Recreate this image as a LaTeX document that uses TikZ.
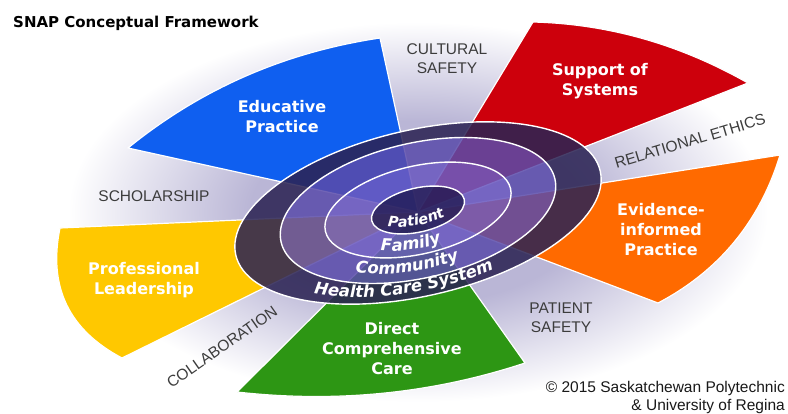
\documentclass[tikz,border=0pt]{standalone}
\usepackage{fontspec}
\usetikzlibrary{decorations.text,calc}
\newfontfamily\boldsans{DejaVu Sans Bold}
\newfontfamily\ringsans{DejaVu Sans Bold Oblique}
\newfontfamily\plainsans{Liberation Sans}

\definecolor{edublue}{RGB}{15,95,240}
\definecolor{supred}{RGB}{205,0,12}
\definecolor{evorange}{RGB}{255,106,0}
\definecolor{caregreen}{RGB}{45,150,20}
\definecolor{leadyellow}{RGB}{255,200,0}
\definecolor{gaplav}{RGB}{186,182,214}
\definecolor{ringouter}{RGB}{44,36,84}
\definecolor{ringcomm}{RGB}{90,75,170}
\definecolor{ringfam}{RGB}{108,90,192}
\definecolor{ringpat}{RGB}{45,36,100}
\definecolor{gaptext}{RGB}{60,60,60}

% soft lavender halo behind the petals, fading to white
\pgfdeclareradialshading{gapfade}{\pgfpoint{0bp}{0bp}}{color(0bp)=(gaplav); color(12bp)=(gaplav); color(25bp)=(white); color(50bp)=(white)}

\begin{document}
\begin{tikzpicture}[x=1pt,y=-1pt,
  petal/.style={draw=white, line width=1.2pt, line join=round},
  petallabel/.style={text=white, font=\boldsans\fontsize{16}{20}\selectfont, align=center, inner sep=0pt},
  gaplabel/.style={text=gaptext, font=\plainsans\fontsize{15.5}{19}\selectfont, align=center, inner sep=0pt},
  ringline/.style={draw=white, line width=1.4pt},
  ringtext/.style n args={2}{decorate, decoration={text along path, text align=center, text color=white,
      text={|\ringsans\fontsize{#1}{#1}\selectfont|#2}}},
]
\useasboundingbox (0,0) rectangle (788,413);
\fill[white] (0,0) rectangle (788,413);
\coordinate (C) at (418,212);
\coordinate (R) at (418,210);

% halo
\shade[shading=gapfade] (C) ellipse [x radius=350pt, y radius=190pt];

% the five petals, radiating from the centre
\path[petal, fill=edublue]    (C) -- (128,148) .. controls (202,88) and (286,52) .. (380,38) -- cycle;
\path[petal, fill=supred]     (C) -- (533,22) .. controls (610,24) and (681,45) .. (748,83) -- cycle;
\path[petal, fill=evorange]   (C) -- (780,155) .. controls (760,221) and (719,271) .. (658,303) -- cycle;
\path[petal, fill=caregreen]  (C) -- (525,363) .. controls (431,394) and (335,403) .. (237,392) -- cycle;
\path[petal, fill=leadyellow] (C) -- (60,228) .. controls (48,287) and (69,330) .. (122,358) -- cycle;

% concentric rings (tilted disc seen in perspective)
\begin{scope}[shift={(R)}, rotate=13]
  \coordinate (o) at (-0.67pt,-2.92pt);
  \coordinate (m) at (-0.11pt,-0.49pt);
  \coordinate (i) at (0pt,0pt);
  \fill[ringouter, opacity=0.87, even odd rule]
    (o) ellipse [x radius=187pt, y radius=83pt] (m) ellipse [x radius=140.5pt, y radius=67.5pt];
  \fill[ringcomm, opacity=0.86, even odd rule]
    (m) ellipse [x radius=140.5pt, y radius=67.5pt] (i) ellipse [x radius=95pt, y radius=44pt];
  \fill[ringfam, opacity=0.88, even odd rule]
    (i) ellipse [x radius=95pt, y radius=44pt] (i) ellipse [x radius=47.5pt, y radius=22pt];
  \fill[ringpat, opacity=0.96] (i) ellipse [x radius=47.5pt, y radius=22pt];
  \draw[ringline] (o) ellipse [x radius=187pt, y radius=83pt];
  \draw[ringline] (m) ellipse [x radius=140.5pt, y radius=67.5pt];
  \draw[ringline] (i) ellipse [x radius=95pt, y radius=44pt];
  \draw[ringline] (i) ellipse [x radius=47.5pt, y radius=22pt];

  \path[ringtext={16.5}{Health Care System}]
    ($(o)+(194:170pt and 77pt)$) arc [start angle=194, end angle=314, x radius=170pt, y radius=77pt];
  \path[ringtext={16.5}{Community}]
    (193:122pt and 59.4pt) arc [start angle=193, end angle=313, x radius=122pt, y radius=59.4pt];
  \path[ringtext={16.5}{Family}]
    (205:80pt and 37.8pt) arc [start angle=205, end angle=305, x radius=80pt, y radius=37.8pt];
  \path[ringtext={14.5}{Patient}]
    (200:42pt and 15pt) arc [start angle=200, end angle=320, x radius=42pt, y radius=15pt];
\end{scope}

% petal labels
\node[petallabel] (edu)  at (282,116.5) {Educative\\Practice};
\node[petallabel] (sup)  at (600,81.5)  {Support of\\Systems};
\node[petallabel] (evi)  at (661,230)   {Evidence-\\informed\\Practice};
\node[petallabel] (dir)  at (392,349)   {Direct\\Comprehensive\\Care};
\node[petallabel] (lead) at (144,280)   {Professional\\Leadership};

% labels in the gaps
\node[gaplabel] (cult)   at (447,59)  {CULTURAL\\SAFETY};
\node[gaplabel] (rel)    at (690,141) [rotate=16.6] {RELATIONAL ETHICS};
\node[gaplabel] (pat)    at (561,318) {PATIENT\\SAFETY};
\node[gaplabel] (collab) at (222,347) [rotate=35] {COLLABORATION};
\node[gaplabel] (schol)  at (154,196) {SCHOLARSHIP};

% title and credits
\node[anchor=base west, inner sep=0pt, font=\boldsans\fontsize{15}{18}\selectfont] (title) at (13,27) {SNAP Conceptual Framework};
\node[anchor=base east, inner sep=0pt, font=\plainsans\fontsize{15.5}{18}\selectfont, text=black!90] (cr1) at (785,392) {© 2015 Saskatchewan Polytechnic};
\node[anchor=base east, inner sep=0pt, font=\plainsans\fontsize{15.5}{18}\selectfont, text=black!90] (cr2) at (785,410) {\& University of Regina};
\end{tikzpicture}
\end{document}
